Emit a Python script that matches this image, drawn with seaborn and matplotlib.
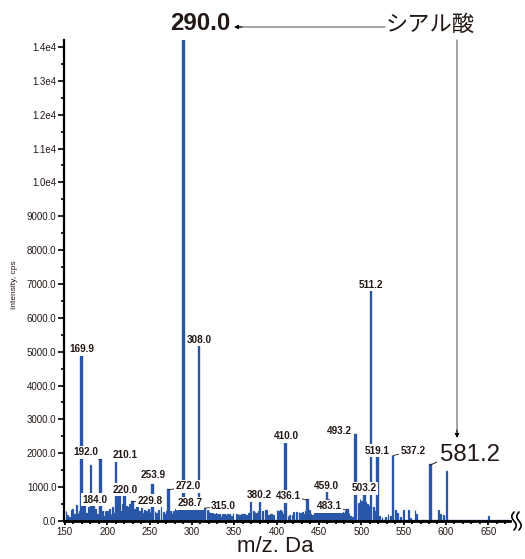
import numpy as np
import pandas as pd
import matplotlib
matplotlib.use("Agg")
import matplotlib.pyplot as plt
import seaborn as sns
from matplotlib.ticker import FuncFormatter, MultipleLocator

# ---------------- data ----------------
peak_mz = [169.9, 184.0, 192.0, 210.1, 220.0, 229.8, 253.9, 272.0, 290.0, 298.7,
           308.0, 315.0, 380.2, 410.0, 436.1, 459.0, 483.1, 493.2, 503.2, 511.2,
           519.1, 537.2, 581.2]
peak_int = [4900, 450, 1800, 1770, 770, 570, 1050, 915, 14200, 380,
            5200, 380, 620, 2360, 620, 900, 320, 2530, 820, 6800,
            1930, 1930, 1650]

other_mz = [151, 153, 155, 157, 159, 161, 163, 165, 167, 171, 173, 175, 177, 180, 182,
            186, 188, 190, 194, 196, 198, 200, 202, 204, 206, 208, 212, 214, 216, 218,
            222, 224, 226, 228, 232, 234, 236, 238, 240, 242, 244, 246, 248, 250, 252,
            256, 258, 260, 263, 266, 268, 270, 274, 276, 278, 280, 282, 284, 286, 288,
            292, 294, 296, 300, 302, 304, 306, 310, 312, 318, 320, 322, 324, 326,
            328, 330, 332, 334, 336, 338, 340, 342, 344, 346, 348, 352, 354, 356, 358,
            360, 362, 364, 366, 369, 372, 374, 376, 378, 383, 386, 388, 390, 392, 394,
            396, 400, 402, 404, 406, 408, 413, 415, 418, 420, 423, 426, 428, 430, 432,
            434, 438, 440, 442, 444, 446, 448, 450, 452, 454, 456, 461, 463, 465, 467,
            469, 471, 473, 475, 477, 479, 481, 485, 487, 489, 491, 496, 498, 500, 505,
            507, 509, 514, 516, 521, 524, 528, 531, 534, 540, 542, 546, 549, 555, 558,
            563, 565, 591, 593, 597, 600, 650]
other_int = [300, 180, 120, 330, 340, 200, 470, 250, 300, 520, 500, 250, 400, 1650, 480,
             350, 200, 420, 300, 150, 300, 300, 350, 200, 400, 250, 750, 780, 300, 500,
             450, 400, 500, 450, 350, 480, 550, 300, 380, 250, 330, 300, 350, 280, 400,
             300, 250, 330, 570, 280, 200, 300, 300, 250, 300, 350, 330, 400, 420, 380,
             400, 420, 380, 420, 380, 400, 350, 380, 350, 330, 280, 330, 250, 200,
             280, 220, 200, 150, 220, 200, 180, 220, 200, 150, 250, 200, 220, 180, 200,
             220, 200, 180, 250, 620, 300, 280, 250, 300, 300, 330, 320, 180, 200, 200,
             180, 330, 300, 330, 300, 200, 150, 180, 180, 280, 280, 280, 250, 280, 200,
             300, 330, 220, 180, 250, 420, 420, 400, 350, 300, 380, 650, 420, 400, 380,
             300, 330, 350, 330, 280, 250, 300, 250, 150, 120, 150, 520, 660, 580, 570,
             500, 450, 400, 300, 150, 120, 120, 200, 150, 330, 250, 120, 330, 330, 100,
             330, 200, 330, 200, 180, 1490, 160]

# label layout (pixel offsets from peak top, leader line flag) -- layout only
label_offsets = {169.9: (0, 6, False), 184.0: (1, 6, False), 192.0: (-14, 8, True),
                 210.1: (9, 6, False), 220.0: (1, 5, False), 229.8: (18, 1, True),
                 253.9: (0, 10, False), 272.0: (20, 4, True), 298.7: (-1, 5, False),
                 308.0: (1, 5, False), 315.0: (19, 2, True), 380.2: (0, 5, False),
                 410.0: (1, 5, False), 436.1: (-19, 4, True), 459.0: (0, 5, False),
                 483.1: (-18, 4, True), 493.2: (-16, 4, False), 503.2: (0, 5, False),
                 511.2: (0, 6, False), 519.1: (0, 5, False), 537.2: (20, 5, True)}

TXT = "#231815"
BLUE = "#2a56a8"

sns.set_theme(style="ticks")
plt.rcParams['font.family'] = ['Liberation Sans', 'Noto Sans CJK JP', 'DejaVu Sans']

W, H = 525, 559
fig = plt.figure(figsize=(W / 100, H / 100), dpi=100)
ax = fig.add_axes([64 / W, (H - 521) / H, 446 / W, 481 / H])

noise_df = pd.DataFrame({"mz": other_mz, "intensity": other_int})
peak_df = pd.DataFrame({"mz": peak_mz, "intensity": peak_int})
for d, lw in ((noise_df, 0.9), (peak_df, 1.7)):
    sns.histplot(data=d, x="mz", weights="intensity", binwidth=1, binrange=(149, 680),
                 color=BLUE, edgecolor=BLUE, linewidth=lw, alpha=1, ax=ax, zorder=2)

ax.set_xlim(149.06, 675.6)
ax.set_ylim(0, 14205)
ax.set_xlabel("")
ax.set_ylabel("")

sns.despine(ax=ax)
ax.spines['left'].set_linewidth(1.6)
ax.spines['bottom'].set_linewidth(2.0)
ax.spines['left'].set_color('black')
ax.spines['bottom'].set_color('black')

ax.xaxis.set_major_locator(MultipleLocator(50))
ax.xaxis.set_minor_locator(MultipleLocator(10))
ax.yaxis.set_major_locator(MultipleLocator(1000))
ax.yaxis.set_minor_locator(MultipleLocator(500))
ax.set_xticks([150, 200, 250, 300, 350, 400, 450, 500, 550, 600, 650])

def yfmt(v, pos):
    if v >= 10000:
        return f"{v / 1e4:.1f}e4"
    return f"{v:.1f}"
ax.yaxis.set_major_formatter(FuncFormatter(yfmt))

ax.tick_params(axis='y', which='major', length=4, width=1.2, pad=1.5, labelsize=7,
               color='black', labelcolor=TXT, direction='out')
ax.tick_params(axis='y', which='minor', length=2.5, width=1.2, color='black', direction='out')
ax.tick_params(axis='x', which='major', length=3, width=1.3, pad=1.5, labelsize=7,
               color='black', labelcolor=TXT, direction='out')
ax.tick_params(axis='x', which='minor', length=2, width=1.3, color='black', direction='out')

# peak labels
for mz, inten in zip(peak_mz, peak_int):
    if mz not in label_offsets:
        continue
    dx, dy, leader = label_offsets[mz]
    ap = dict(arrowstyle='-', color=TXT, lw=0.6, shrinkA=0, shrinkB=0) if leader else None
    ax.annotate(f"{mz:.1f}", xy=(mz, inten), xytext=(dx, dy), textcoords='offset pixels',
                ha='center', va='center', fontsize=7.2, fontweight='bold', color=TXT,
                bbox=dict(boxstyle='square,pad=0.15', fc='white', ec='none'),
                arrowprops=ap, zorder=5, annotation_clip=False)

# big 581.2 label
ax.annotate("581.2", xy=(581.2, 1650), xytext=(40, 10), textcoords='offset pixels',
            ha='center', va='center', fontsize=17.3, color=TXT,
            arrowprops=dict(arrowstyle='-', color=TXT, lw=0.7, shrinkA=0, shrinkB=0,
                            relpos=(0.0, 0.25)),
            zorder=5, annotation_clip=False)

# 290.0 label and sialic acid annotation (figure pixel coords)
fig.text(200 / W, (H - 24) / H, "290.0", fontsize=17.3, fontweight='bold', color=TXT,
         ha='center', va='center')
fig.text(430 / W, (H - 24) / H, "シアル酸", fontsize=16, color=TXT, ha='center', va='center',
         family=['Noto Sans CJK JP', 'DejaVu Sans'])
ax.annotate("", xy=(240, H - 27), xytext=(385, H - 27), xycoords='figure pixels',
            textcoords='figure pixels',
            arrowprops=dict(arrowstyle='-', color='#808080', lw=1.0, shrinkA=0, shrinkB=0))
ax.annotate("", xy=(234, H - 27), xytext=(242, H - 27), xycoords='figure pixels',
            textcoords='figure pixels',
            arrowprops=dict(arrowstyle='-|>', color='black', lw=0.8, mutation_scale=6,
                            shrinkA=0, shrinkB=0))
ax.annotate("", xy=(457, H - 432), xytext=(457, H - 40), xycoords='figure pixels',
            textcoords='figure pixels',
            arrowprops=dict(arrowstyle='-', color='#808080', lw=1.0, shrinkA=0, shrinkB=0))
ax.annotate("", xy=(457, H - 438), xytext=(457, H - 430), xycoords='figure pixels',
            textcoords='figure pixels',
            arrowprops=dict(arrowstyle='-|>', color='black', lw=0.8, mutation_scale=6,
                            shrinkA=0, shrinkB=0))

# axis break mark
t = np.linspace(-1, 1, 40)
for x0 in (514, 519):
    xs = (x0 + 2.2 * np.sin(np.pi * t)) / W
    ys = (H - (521 + 9 * t)) / H
    fig.add_artist(plt.Line2D(xs, ys, color='black', lw=1.2, transform=fig.transFigure))

# axis labels
fig.text(15 / W, (H - 285) / H, "Intensity, cps", rotation=90, fontsize=6, color=TXT,
         ha='center', va='center')
fig.text(275 / W, (H - 547) / H, "m/z. Da", fontsize=16, color=TXT, ha='center', va='center')

fig.savefig("out.png", dpi=100)
